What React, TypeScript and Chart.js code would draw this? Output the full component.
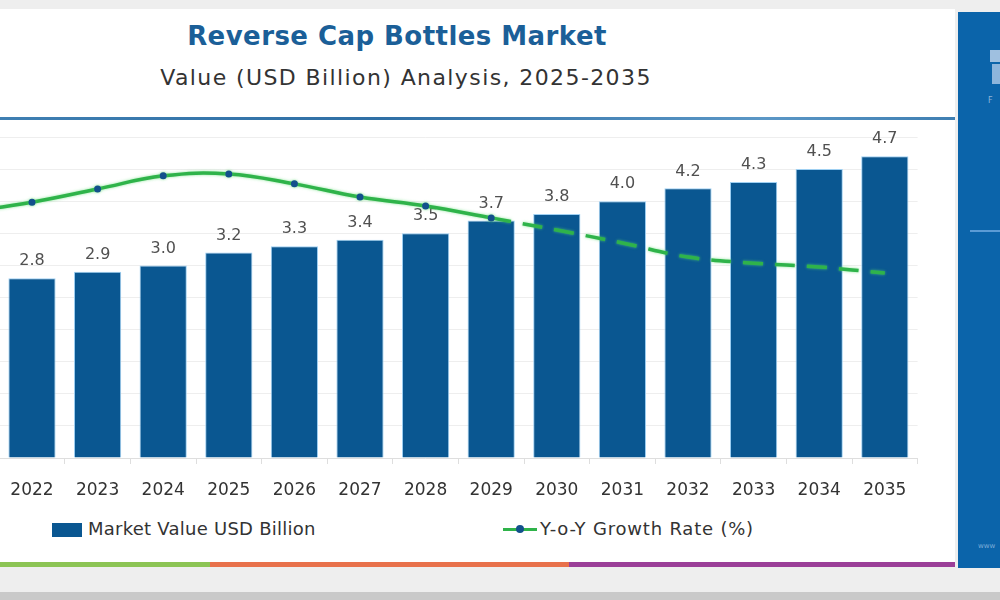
import React, { useEffect, useRef } from "react";
import { Chart, registerables } from "chart.js";

Chart.register(...registerables);

// Years on the category axis (2021 sits just off the left edge of the card)
const years = ["2021", "2022", "2023", "2024", "2025", "2026", "2027", "2028", "2029", "2030", "2031", "2032", "2033", "2034", "2035"];
// Market value, USD billion
const marketValue = [2.7, 2.8, 2.9, 3.0, 3.2, 3.3, 3.4, 3.5, 3.7, 3.8, 4.0, 4.2, 4.3, 4.5, 4.7];
// Year-over-year growth rate, %
const growthRate = [7.66, 7.97, 8.38, 8.79, 8.85, 8.54, 8.13, 7.85, 7.48, 7.1, 6.7, 6.26, 6.07, 5.95, 5.76];
// Last year drawn with markers and a solid line; forecast years are dashed
const lastActualYear = "2029";

const FONT = '"DejaVu Sans", "Open Sans", sans-serif';
const BAR_BLUE = "#0a5791";
const LINE_GREEN = "#2fb34a";

const barValueLabels = {
  id: "barValueLabels",
  afterDatasetDraw(chart: any, args: any) {
    if (args.index !== 0) return;
    const { ctx } = chart;
    ctx.save();
    ctx.font = `16px ${FONT}`;
    ctx.fillStyle = "#505050";
    ctx.textAlign = "center";
    ctx.textBaseline = "middle";
    args.meta.data.forEach((el: any, i: number) => {
      ctx.fillText(marketValue[i].toFixed(1), el.x, el.y - 17);
    });
    ctx.restore();
  },
};

const lineGlow = {
  id: "lineGlow",
  beforeDatasetDraw(chart: any, args: any) {
    if (args.index !== 1) return;
    const { ctx } = chart;
    ctx.save();
    ctx.shadowColor = "rgba(90, 220, 110, 0.7)";
    ctx.shadowBlur = 3;
  },
  afterDatasetDraw(chart: any, args: any) {
    if (args.index !== 1) return;
    chart.ctx.restore();
  },
};

export default function App() {
  const canvasRef = useRef<HTMLCanvasElement>(null);

  useEffect(() => {
    document.body.style.margin = "0";
    const actualIdx = years.indexOf(lastActualYear);
    const chart = new Chart(canvasRef.current!, {
      type: "bar",
      data: {
        labels: years,
        datasets: [
          {
            type: "bar",
            label: "Market Value USD Billion",
            data: marketValue,
            backgroundColor: BAR_BLUE,
            borderColor: "#9fd0f2",
            borderWidth: 1,
            borderSkipped: "bottom",
            categoryPercentage: 1,
            barPercentage: 0.72,
            yAxisID: "y",
            order: 1,
          },
          {
            type: "line",
            label: "Y-o-Y Growth Rate (%)",
            data: growthRate,
            borderColor: LINE_GREEN,
            borderWidth: 3.5,
            tension: 0.4,
            pointRadius: years.map((_, i) => (i <= actualIdx ? 3.5 : 0)),
            pointBackgroundColor: "#13508c",
            pointBorderColor: "#13508c",
            pointBorderWidth: 0,
            segment: {
              borderDash: (ctx: any) => (ctx.p0DataIndex >= actualIdx ? [20, 12] : undefined),
            },
            yAxisID: "y1",
            order: 0,
          },
        ],
      },
      options: {
        responsive: false,
        animation: false,
        layout: { padding: { left: 13.6, right: 12.4, top: 17, bottom: 0 } },
        plugins: {
          legend: { display: false },
          tooltip: { enabled: false },
          title: { display: false },
        },
        scales: {
          x: {
            afterFit: (scale: any) => {
              scale.height = 52;
            },
            border: { display: true, color: "#dedede" },
            grid: {
              drawOnChartArea: false,
              drawTicks: true,
              tickLength: 6,
              color: "#dedede",
              offset: true,
            },
            ticks: {
              color: "#333333",
              padding: 16,
              font: { family: FONT, size: 17 },
              maxRotation: 0,
              autoSkip: false,
            },
          },
          y: {
            min: 0,
            max: 5,
            afterFit: (scale: any) => {
              scale.width = 0;
            },
            border: { display: false },
            grid: { color: "#eeeeee", drawTicks: false },
            ticks: { display: false, stepSize: 0.5 },
          },
          y1: {
            display: false,
            min: 0,
            max: 10,
          },
        },
      },
      plugins: [barValueLabels, lineGlow],
    });
    return () => chart.destroy();
  }, []);

  return (
    <div
      style={{
        position: "fixed",
        left: 0,
        top: 0,
        width: 1000,
        height: 600,
        overflow: "hidden",
        background: "#eeeeee",
        fontFamily: FONT,
      }}
    >
      {/* white card */}
      <div style={{ position: "absolute", left: 0, top: 9, width: 955, height: 558, background: "#ffffff" }} />

      {/* title block */}
      <div
        style={{
          position: "absolute",
          left: 0,
          top: 19,
          width: 794,
          textAlign: "center",
          fontSize: 26,
          fontWeight: 700,
          letterSpacing: 0.45,
          lineHeight: "34px",
          color: "#1b5f98",
        }}
      >
        Reverse Cap Bottles Market
      </div>
      <div
        style={{
          position: "absolute",
          left: 0,
          top: 63,
          width: 812,
          textAlign: "center",
          fontSize: 22,
          letterSpacing: 1.4,
          lineHeight: "30px",
          color: "#333333",
        }}
      >
        Value (USD Billion) Analysis, 2025-2035
      </div>
      <div
        style={{
          position: "absolute",
          left: 0,
          top: 117,
          width: 955,
          height: 3,
          background: "linear-gradient(to right, #3f7fb2, #2f6fa5 40%, #5b97c6 80%, #3f7fb2)",
        }}
      />

      <canvas
        ref={canvasRef}
        width={1010}
        height={390}
        style={{ position: "absolute", left: -80, top: 120 }}
      />

      {/* legend */}
      <div style={{ position: "absolute", left: 52, top: 523, width: 30, height: 14, background: BAR_BLUE }} />
      <div
        style={{
          position: "absolute",
          left: 88,
          top: 517,
          fontSize: 18,
          letterSpacing: 0.25,
          lineHeight: "24px",
          color: "#333333",
          whiteSpace: "nowrap",
        }}
      >
        Market Value USD Billion
      </div>
      <div style={{ position: "absolute", left: 503, top: 528, width: 34, height: 3, background: LINE_GREEN }} />
      <div
        style={{
          position: "absolute",
          left: 516,
          top: 525,
          width: 8,
          height: 8,
          borderRadius: 4,
          background: "#13508c",
        }}
      />
      <div
        style={{
          position: "absolute",
          left: 540,
          top: 517,
          fontSize: 18,
          letterSpacing: 0.8,
          lineHeight: "24px",
          color: "#333333",
          whiteSpace: "nowrap",
        }}
      >
        Y-o-Y Growth Rate (%)
      </div>

      {/* bottom colour stripe */}
      <div style={{ position: "absolute", left: 0, top: 562, width: 210, height: 5, background: "#8cc454" }} />
      <div style={{ position: "absolute", left: 210, top: 562, width: 359, height: 5, background: "#e8714b" }} />
      <div style={{ position: "absolute", left: 569, top: 562, width: 386, height: 5, background: "#9b3f98" }} />
      <div style={{ position: "absolute", left: 0, top: 592, width: 1000, height: 8, background: "#c9c9c9" }} />

      {/* side panel */}
      <div style={{ position: "absolute", left: 958, top: 12, width: 42, height: 556, background: "#0b64aa" }}>
        <div style={{ position: "absolute", left: 32, top: 38, width: 10, height: 12, background: "#9fc0e0" }} />
        <div style={{ position: "absolute", left: 34, top: 52, width: 8, height: 20, background: "#8db5dc" }} />
        <div style={{ position: "absolute", left: 30, top: 84, fontSize: 8, color: "#8fb4d8" }}>F</div>
        <div style={{ position: "absolute", left: 12, top: 218, width: 30, height: 2, background: "#5b9bd5" }} />
        <div style={{ position: "absolute", left: 20, top: 530, fontSize: 7, color: "#7faed9" }}>www</div>
      </div>
    </div>
  );
}
